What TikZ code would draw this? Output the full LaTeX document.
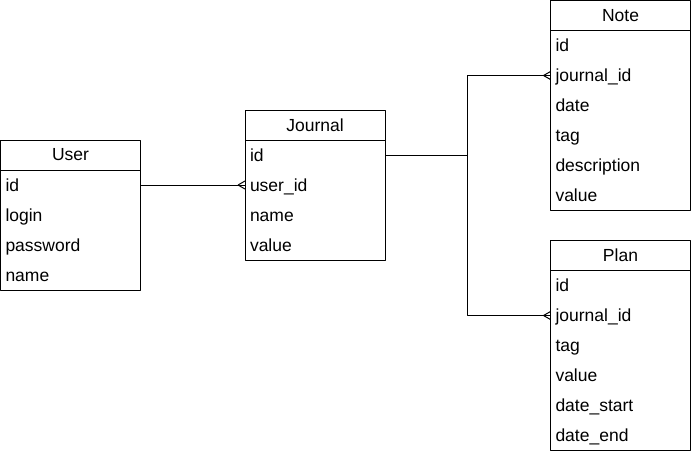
\documentclass[tikz,border=0pt]{standalone}
\usepackage{fontspec}
\setmainfont{Liberation Sans}
\usetikzlibrary{positioning}
\tikzset{
	head/.style={draw, minimum width=140pt, minimum height=30pt, inner sep=0pt, outer sep=0pt},
	field/.style={minimum height=30pt, text width=130pt, text height=14pt, text depth=2pt, inner xsep=5pt, inner ysep=0pt, outer sep=0pt, align=left},
}
\newcommand{\crowfoot}[1]{\draw (#1) ++(-7,0) -- ++(7,-4) (#1) ++(-7,0) -- ++(7,4);}
\begin{document}
\begin{tikzpicture}[x=1pt, y=-1pt, line width=1pt, line join=round, font=\fontsize{17.5}{20}\selectfont]
	\useasboundingbox (0,0) rectangle (691,451);
	% bảng User
	\node[head] (user) at (70.5,155) {User};
	\node[field, below=0pt of user] (user1) {id};
	\foreach \t [count=\i from 2] in {login,password,name}
	{\pgfmathtruncatemacro\j{\i-1}
		\node[field, below=0pt of user\j] (user\i) {\t};}
	\draw (user1.north west) rectangle (user4.south east);
	% bảng Journal
	\node[head] (jour) at (315,125) {Journal};
	\node[field, below=0pt of jour] (jour1) {id};
	\foreach \t [count=\i from 2] in {user\_id,name,value}
	{\pgfmathtruncatemacro\j{\i-1}
		\node[field, below=0pt of jour\j] (jour\i) {\t};}
	\draw (jour1.north west) rectangle (jour4.south east);
	% bảng Note
	\node[head] (note) at (620.5,15.5) {Note};
	\node[field, below=0pt of note] (note1) {id};
	\foreach \t [count=\i from 2] in {journal\_id,date,tag,description,value}
	{\pgfmathtruncatemacro\j{\i-1}
		\node[field, below=0pt of note\j] (note\i) {\t};}
	\draw (note1.north west) rectangle (note6.south east);
	% bảng Plan
	\node[head] (plan) at (620.5,255.5) {Plan};
	\node[field, below=0pt of plan] (plan1) {id};
	\foreach \t [count=\i from 2] in {journal\_id,tag,value,date\_start,date\_end}
	{\pgfmathtruncatemacro\j{\i-1}
		\node[field, below=0pt of plan\j] (plan\i) {\t};}
	\draw (plan1.north west) rectangle (plan6.south east);
	% liên kết
	\coordinate (k) at (467.5,155);
	\draw (user1.east) -- (jour2.west);
	\crowfoot{jour2.west}
	\draw (jour1.east) -- (k |- jour1.east) |- (note2.west);
	\draw (k |- jour1.east) |- (plan2.west);
	\crowfoot{note2.west}
	\crowfoot{plan2.west}
\end{tikzpicture}
\end{document}
